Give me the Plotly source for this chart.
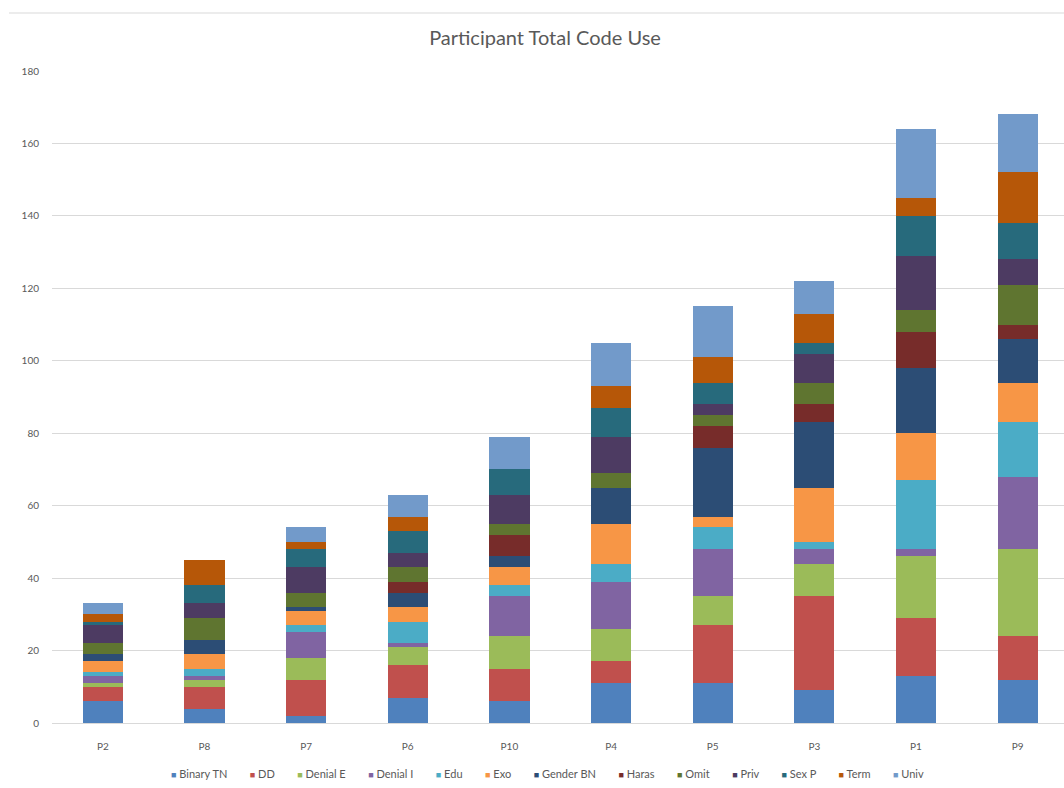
import plotly.graph_objects as go

# Participants, ordered by total code use
participants = ["P2", "P8", "P7", "P6", "P10", "P4", "P5", "P3", "P1", "P9"]

# Code counts per participant
binary_tn = [6, 4, 2, 7, 6, 11, 11, 9, 13, 12]
dd        = [4, 6, 10, 9, 9, 6, 16, 26, 16, 12]
denial_e  = [1, 2, 6, 5, 9, 9, 8, 9, 17, 24]
denial_i  = [2, 1, 7, 1, 11, 13, 13, 4, 2, 20]
edu       = [1, 2, 2, 6, 3, 5, 6, 2, 19, 15]
exo       = [3, 4, 4, 4, 5, 11, 3, 15, 13, 11]
gender_bn = [2, 4, 1, 4, 3, 10, 19, 18, 18, 12]
haras     = [0, 0, 0, 3, 6, 0, 6, 5, 10, 4]
omit      = [3, 6, 4, 4, 3, 4, 3, 6, 6, 11]
priv      = [5, 4, 7, 4, 8, 10, 3, 8, 15, 7]
sex_p     = [1, 5, 5, 6, 7, 8, 6, 3, 11, 10]
term      = [2, 7, 2, 4, 0, 6, 7, 8, 5, 14]
univ      = [3, 0, 4, 6, 9, 12, 14, 9, 19, 16]

code_names = ["Binary TN", "DD", "Denial E", "Denial I", "Edu", "Exo",
              "Gender BN", "Haras", "Omit", "Priv", "Sex P", "Term", "Univ"]
code_values = [binary_tn, dd, denial_e, denial_i, edu, exo,
               gender_bn, haras, omit, priv, sex_p, term, univ]
code_colors = ["#4F81BD", "#C0504D", "#9BBB59", "#8064A2", "#4BACC6", "#F79646",
               "#2C4D75", "#772C2A", "#5F7530", "#4D3B62", "#276A7C", "#B65708",
               "#729ACA"]

FONT = "Lato, 'Open Sans', sans-serif"
TEXT_GREY = "#595959"
GRID_GREY = "#d9d9d9"

W, H = 1064, 788
L, R, T, B = 52, 0, 71, 65
plot_w = W - L - R
plot_h = H - T - B


def px_to_paper_x(px):
    return (px - L) / plot_w


def px_to_paper_y(py):
    return (H - B - py) / plot_h


fig = go.Figure()
for name, vals, color in zip(code_names, code_values, code_colors):
    fig.add_bar(x=participants, y=vals, name=name,
                marker=dict(color=color, line=dict(width=0)))

# Legend row: coloured squares followed by the code names
sep = "&nbsp;" * 8
legend_text = sep.join(
    f'<span style="color:{c};font-size:9px">■</span> {n}'
    for n, c in zip(code_names, code_colors)
)

fig.update_layout(
    width=W, height=H,
    margin=dict(l=L, r=R, t=T, b=B, pad=0),
    barmode="stack",
    bargap=0.604,
    showlegend=False,
    paper_bgcolor="white",
    plot_bgcolor="white",
    font=dict(family=FONT, color=TEXT_GREY, size=10),
    title=dict(text="Participant Total Code Use",
               x=545 / W, xanchor="center", xref="container",
               y=1 - 38 / H, yanchor="middle", yref="container",
               font=dict(family=FONT, size=20, color=TEXT_GREY)),
    xaxis=dict(range=[-0.5, 9.456], showgrid=False, showline=True,
               linecolor=GRID_GREY, linewidth=1, ticks="",
               tickfont=dict(size=10, color=TEXT_GREY),
               ticklabelstandoff=14, fixedrange=True),
    yaxis=dict(range=[0, 180], dtick=20, showgrid=True, gridcolor=GRID_GREY,
               gridwidth=1, zeroline=False, showline=False, ticks="",
               tickfont=dict(size=10, color=TEXT_GREY),
               ticklabelstandoff=12, fixedrange=True),
    shapes=[dict(type="line", xref="paper", yref="paper",
                 x0=px_to_paper_x(9), x1=px_to_paper_x(W),
                 y0=px_to_paper_y(13), y1=px_to_paper_y(13),
                 line=dict(color=GRID_GREY, width=1))],
    annotations=[dict(text=legend_text, xref="paper", yref="paper",
                      x=px_to_paper_x(547), y=px_to_paper_y(773),
                      xanchor="center", yanchor="middle", showarrow=False,
                      font=dict(family=FONT, size=11, color=TEXT_GREY))],
)

fig.write_html("out.html")
